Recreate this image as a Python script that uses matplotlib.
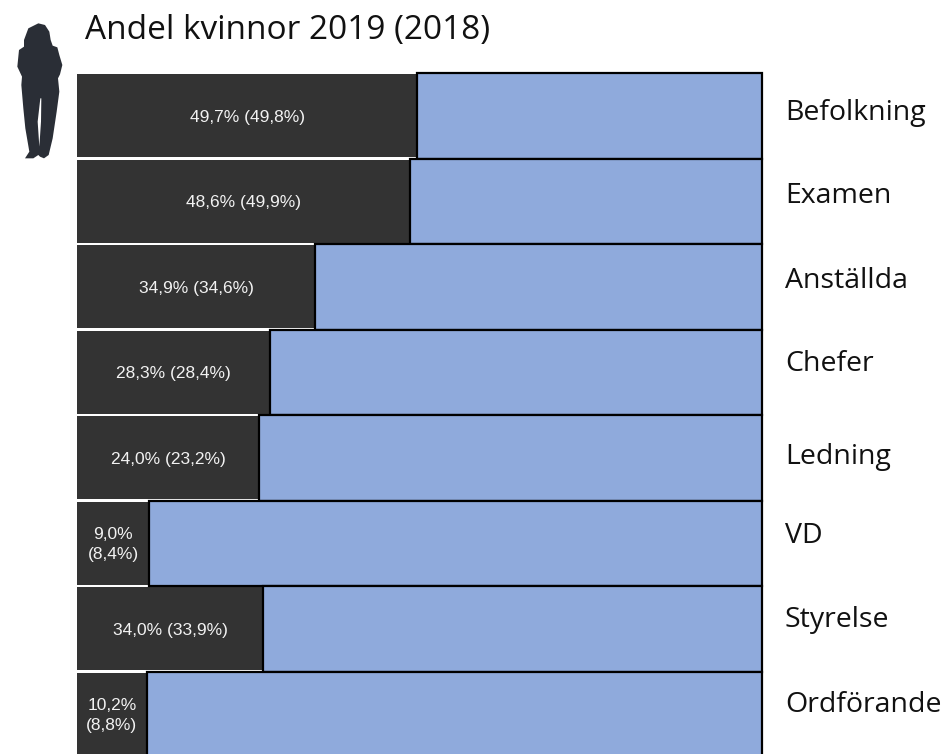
import matplotlib
matplotlib.use("Agg")
import matplotlib.pyplot as plt
from matplotlib.patches import Polygon

categories = ["Befolkning", "Examen", "Anställda", "Chefer", "Ledning", "VD", "Styrelse", "Ordförande"]
# Bar lengths as drawn in the picture (%), which differ from some printed labels
drawn_share = [49.7, 48.6, 34.8, 28.2, 26.6, 10.5, 27.2, 10.2]
value_labels = ["49,7% (49,8%)", "48,6% (49,9%)", "34,9% (34,6%)", "28,3% (28,4%)",
                "24,0% (23,2%)", "9,0%\n(8,4%)", "34,0% (33,9%)", "10,2%\n(8,8%)"]
title = "Andel kvinnor 2019 (2018)"

W, H = 945, 754
fig = plt.figure(figsize=(W / 100, H / 100), dpi=100, facecolor="white")
ax = fig.add_axes([77 / W, -3 / H, 685 / W, 684 / H])
ax.set_xlim(0, 100)
ax.set_ylim(len(categories) - 0.5, -0.5)
ax.axis("off")

y = list(range(len(categories)))
rest = [100 - v for v in drawn_share]
ax.barh(y, drawn_share, height=0.972, color="#333333", edgecolor="none", zorder=2)
ax.barh(y, rest, left=drawn_share, height=1, color="#8faadc", edgecolor="black",
        linewidth=1.6, zorder=3, clip_on=False)

label_baselines = [120, 203, 288, 371, 464, 543, 627, 712]
for i, (v, lab, cat) in enumerate(zip(drawn_share, value_labels, categories)):
    ax.text(v / 2, i + 0.015, lab, color="#f2f2f2", ha="center", va="center", fontsize=12.5,
            family="Liberation Sans", linespacing=1.35, zorder=4)
    fig.text(785 / W, 1 - label_baselines[i] / H, cat, fontsize=20.5, family="Open Sans",
             ha="left", va="baseline", color="#111111")

fig.text(85 / W, 1 - 30 / H, title, fontsize=24, family="Open Sans", ha="left", va="center", color="#111111")

# Decorative silhouette (outline in zoomed pixels, origin at 10,15, scale 3)
outline = [(85, 25), (105, 30), (118, 50), (122, 75), (128, 92), (142, 97), (148, 120), (157, 150),
           (150, 178), (144, 190), (148, 230), (140, 290), (128, 370), (116, 420), (102, 430),
           (90, 425), (85, 420), (70, 430), (45, 430), (58, 410), (46, 340), (40, 280), (34, 210),
           (36, 185), (22, 155), (27, 105), (42, 95), (42, 75), (55, 40)]
inner = [(91, 250), (83, 320), (88, 395), (93, 320), (94, 250)]


def to_fig(points):
    return [((10 + px / 3) / W, 1 - (15 + py / 3) / H) for px, py in points]


fig.add_artist(Polygon(to_fig(outline), closed=True, transform=fig.transFigure,
                       facecolor="#2a2e36", edgecolor="none"))
fig.add_artist(Polygon(to_fig(inner), closed=True, transform=fig.transFigure,
                       facecolor="white", edgecolor="none"))

fig.savefig("out.png", dpi=100)
